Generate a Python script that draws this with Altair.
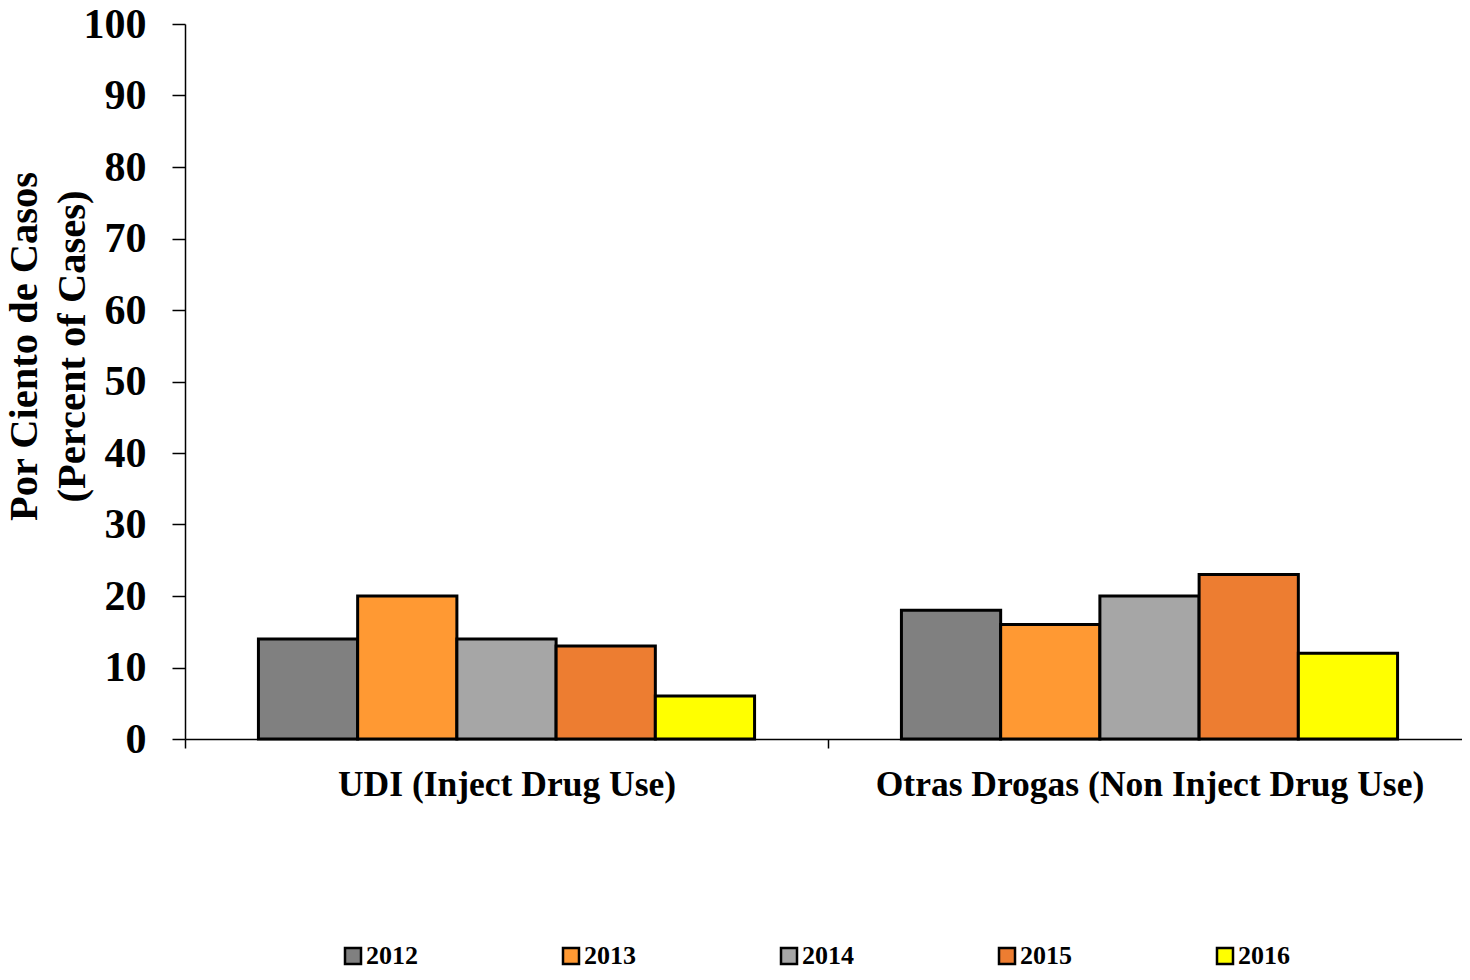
import altair as alt
import pandas as pd

categories = ["UDI (Inject Drug Use)", "Otras Drogas (Non Inject Drug Use)"]
years = ["2012", "2013", "2014", "2015", "2016"]
udi_values = [14, 20, 14, 13, 6]
otras_values = [18, 16, 20, 23, 12]
year_colors = ["#808080", "#FF9933", "#A6A6A6", "#ED7D31", "#FFFF00"]
y_ticks = [0, 10, 20, 30, 40, 50, 60, 70, 80, 90, 100]

rows = []
for cat, vals in zip(categories, [udi_values, otras_values]):
    for yr, v in zip(years, vals):
        rows.append({"cat": cat, "year": yr, "value": v})
df = pd.DataFrame(rows)

FONT = "Liberation Serif"

chart = alt.Chart(df).mark_bar(stroke="black", strokeWidth=3, strokeJoin="miter").encode(
    x=alt.X(
        "cat:N", sort=categories,
        scale=alt.Scale(paddingInner=0, paddingOuter=0, range=[0, 1286]),
        axis=alt.Axis(
            title=None, labelAngle=0, tickBand="extent", labelFontSize=35.5,
            labelFont=FONT, labelFontWeight="bold", labelColor="black",
            tickSize=9, domainColor="black", tickColor="black",
            domainWidth=1.5, tickWidth=1.5, labelPadding=19, labelLimit=0,
        ),
    ),
    xOffset=alt.XOffset("year:N", sort=years, scale=alt.Scale(paddingOuter=0.74, paddingInner=0)),
    y=alt.Y(
        "value:Q", scale=alt.Scale(domain=[0, 100]),
        axis=alt.Axis(
            values=y_ticks, grid=False,
            title=["Por Ciento de Casos", "(Percent of Cases)"],
            titleFont=FONT, titleFontWeight="bold", titleFontSize=40.5,
            titleLineHeight=48, titleColor="black", titleX=-140, titleY=322,
            labelFont=FONT, labelFontWeight="bold", labelFontSize=42,
            labelColor="black", labelPadding=26, tickSize=13,
            domainColor="black", tickColor="black", domainWidth=1.5, tickWidth=1.5,
        ),
    ),
    color=alt.Color(
        "year:N", sort=years,
        scale=alt.Scale(domain=years, range=year_colors),
        legend=alt.Legend(
            title=None, orient="none", legendX=155, legendY=919,
            direction="horizontal", columns=5, symbolType="square",
            symbolSize=256, symbolStrokeColor="black", symbolStrokeWidth=2.5,
            symbolOpacity=1, labelFont=FONT, labelFontSize=26,
            labelFontWeight="bold", labelColor="black", columnPadding=140,
            labelOffset=0, padding=0,
        ),
    ),
).properties(
    width=1277, height=715,
    autosize=alt.AutoSizeParams(type="none"),
    padding={"left": 177, "top": 16, "right": 0, "bottom": 231},
).configure_view(stroke=None)

chart.save("out.html", embed_options={"renderer": "svg", "actions": False})
